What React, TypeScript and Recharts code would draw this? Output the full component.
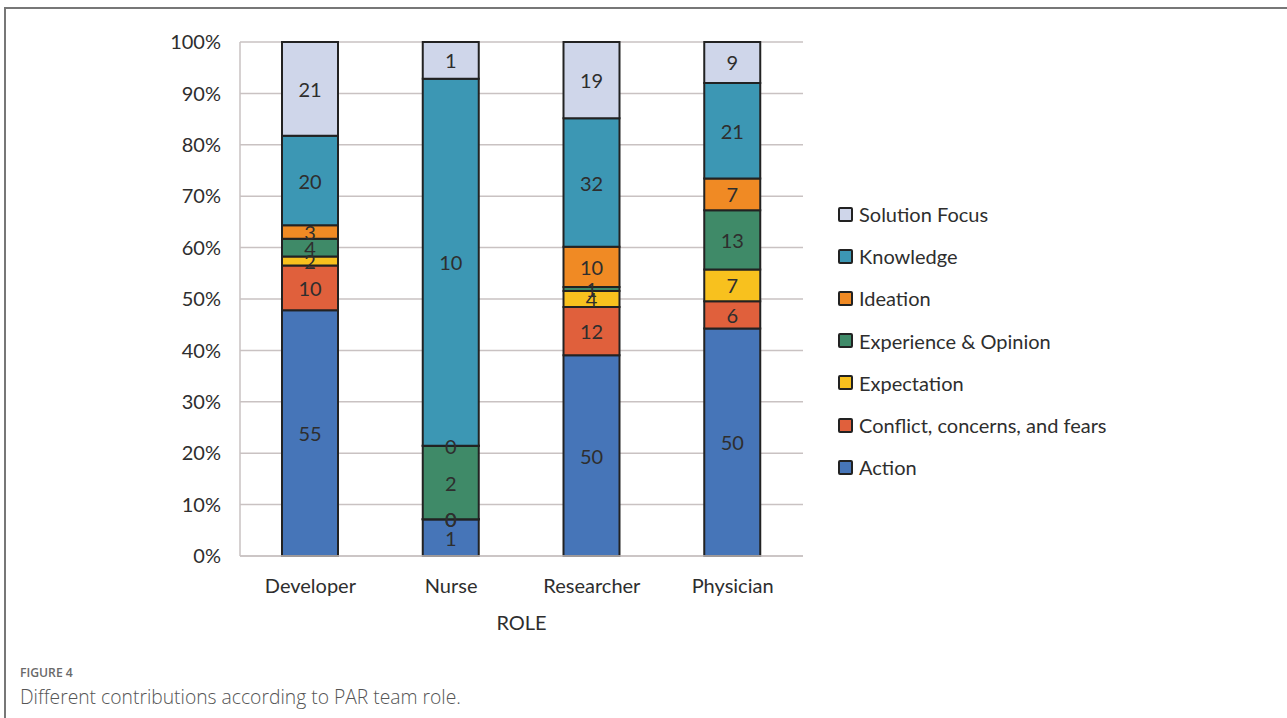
import React from "react";
import { Bar, BarChart, CartesianGrid, LabelList, XAxis, YAxis } from "recharts";

// Roles on the x axis
const roles = ["Developer", "Nurse", "Researcher", "Physician"];

// Contribution counts per role, in stacking order (bottom to top)
const action = [55, 1, 50, 50];
const conflict = [10, 0, 12, 6];
const expectation = [2, 0, 4, 7];
const experience = [4, 2, 1, 13];
const ideation = [3, 0, 10, 7];
const knowledge = [20, 10, 32, 21];
const solution = [21, 1, 19, 9];

const percentTicks = [0, 0.1, 0.2, 0.3, 0.4, 0.5, 0.6, 0.7, 0.8, 0.9, 1];

const series = [
  { key: "action", name: "Action", color: "#4675b8", values: action },
  { key: "conflict", name: "Conflict, concerns, and fears", color: "#e0603c", values: conflict },
  { key: "expectation", name: "Expectation", color: "#f8c11e", values: expectation },
  { key: "experience", name: "Experience & Opinion", color: "#3f8a68", values: experience },
  { key: "ideation", name: "Ideation", color: "#f08a24", values: ideation },
  { key: "knowledge", name: "Knowledge", color: "#3c97b4", values: knowledge },
  { key: "solution", name: "Solution Focus", color: "#cfd6ea", values: solution },
];

const data = roles.map((role, i) => {
  const row: Record<string, string | number> = { role };
  series.forEach((s) => {
    row[s.key] = s.values[i];
  });
  return row;
});

const FONT = "Lato, 'Open Sans', sans-serif";
const TEXT = "#2e2e2e";
const GRID = "#c9c2c2";

// value label centred on the segment, drawn even when the segment is empty
const SegmentLabel = (props: any) => {
  const { x, y, width, height, value } = props;
  if (value == null) return null;
  return (
    <text
      x={Number(x) + Number(width) / 2}
      y={Number(y) + Number(height) / 2}
      textAnchor="middle"
      dominantBaseline="central"
      fill={TEXT}
      fontSize={20}
      fontFamily={FONT}
    >
      {value}
    </text>
  );
};

const ChartLegend = () => (
  <div style={{ position: "absolute", left: 838, top: 193, fontFamily: FONT }}>
    {[...series].reverse().map((s) => (
      <div
        key={s.key}
        style={{ display: "flex", alignItems: "center", height: 42.2, fontSize: 20, color: TEXT }}
      >
        <span
          style={{
            display: "inline-block",
            width: 11,
            height: 11,
            background: s.color,
            border: "2px solid #222",
            borderRadius: 2,
            marginRight: 6,
          }}
        />
        {s.name}
      </div>
    ))}
  </div>
);

export default function App() {
  return (
    <div
      style={{
        position: "absolute",
        left: 0,
        top: 0,
        width: 1287,
        height: 718,
        background: "#fff",
        overflow: "hidden",
      }}
    >
      {/* page frame */}
      <div
        style={{
          position: "absolute",
          left: 4,
          top: 7,
          width: 1290,
          height: 720,
          borderTop: "2px solid #777",
          borderLeft: "2px solid #777",
        }}
      />
      <BarChart
        width={1287}
        height={718}
        data={data}
        stackOffset="expand"
        margin={{ top: 42, right: 484, left: 170, bottom: 82 }}
        style={{ position: "absolute", left: 0, top: 0 }}
      >
        <CartesianGrid vertical={false} stroke={GRID} strokeWidth={1.5} />
        <XAxis
          dataKey="role"
          height={80}
          stroke={GRID}
          strokeWidth={1.5}
          tickLine={false}
          tickMargin={17}
          tick={{ fill: TEXT, fontSize: 20, fontFamily: FONT }}
          label={{
            value: "ROLE",
            position: "insideBottom",
            offset: 6,
            fill: TEXT,
            fontSize: 20,
            fontFamily: FONT,
          }}
        />
        <YAxis
          width={70}
          domain={[0, 1]}
          ticks={percentTicks}
          interval={0}
          stroke={GRID}
          strokeWidth={1.5}
          tickLine={false}
          tickMargin={13}
          tickFormatter={(v: number) => `${Math.round(v * 100)}%`}
          tick={{ fill: TEXT, fontSize: 20, fontFamily: FONT }}
        />
        {series.map((s) => (
          <Bar
            key={s.key}
            dataKey={s.key}
            name={s.name}
            stackId="role"
            fill={s.color}
            stroke="#222"
            strokeWidth={2}
            barSize={56}
            minPointSize={0.01}
            isAnimationActive={false}
          >
            <LabelList dataKey={s.key} position="center" content={SegmentLabel} />
          </Bar>
        ))}
      </BarChart>
      <ChartLegend />
      <div
        style={{
          position: "absolute",
          left: 20,
          top: 664,
          fontFamily: "'Open Sans', sans-serif",
          fontWeight: 600,
          fontSize: 12.2,
          color: "#6a6a6a",
        }}
      >
        FIGURE 4
      </div>
      <div
        style={{
          position: "absolute",
          left: 20,
          top: 683,
          fontFamily: "'Open Sans', sans-serif",
          fontWeight: 300,
          fontSize: 19.3,
          color: "#555",
        }}
      >
        Different contributions according to PAR team role.
      </div>
    </div>
  );
}
